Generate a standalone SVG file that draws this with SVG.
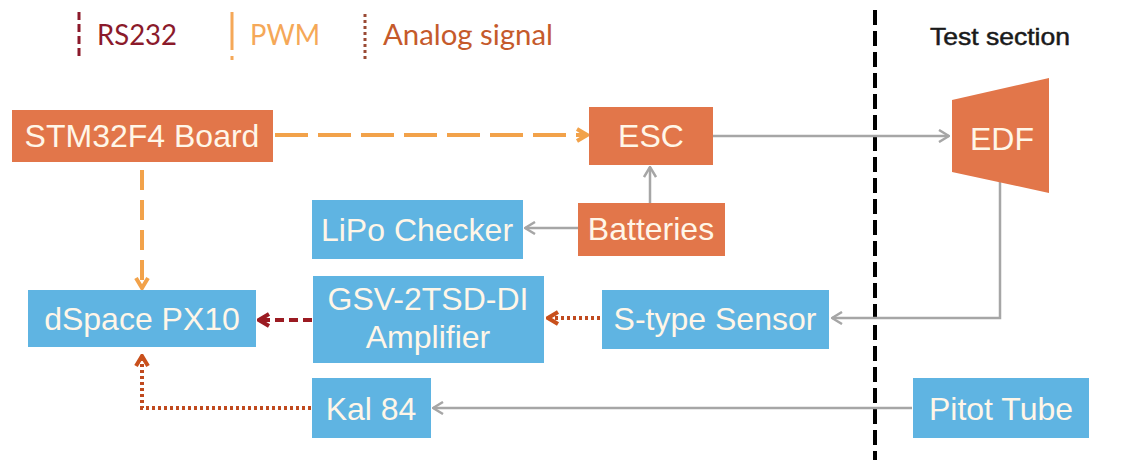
<svg xmlns="http://www.w3.org/2000/svg" width="1122" height="460" viewBox="0 0 1122 460">
<style>
.lbl{font-family:"Liberation Sans",Arial,sans-serif;font-size:32px;fill:#FFF6E8;text-anchor:middle}
.org{fill:#E2764A}
.blu{fill:#5FB4E2}
.leg{font-family:Lato,"Liberation Sans",sans-serif;font-size:28px}
.gray{stroke:#A6A6A6;stroke-width:2.5;fill:none}
.pwm{stroke:#F2A24A;stroke-width:4;fill:none}
.rs{stroke:#9B1B22;stroke-width:4;fill:none;stroke-dasharray:9 5}
.ana{stroke:#C04A1E;stroke-width:4;fill:none;stroke-dasharray:3 3}
</style>
<defs>
<marker id="mg" viewBox="0 0 12 14" refX="11" refY="7" markerWidth="12" markerHeight="14" markerUnits="userSpaceOnUse" orient="auto"><path d="M1,1 L11,7 L1,13" fill="none" stroke="#A6A6A6" stroke-width="2.5"/></marker>
<marker id="mp" viewBox="0 0 14 16" refX="12" refY="8" markerWidth="14" markerHeight="16" markerUnits="userSpaceOnUse" orient="auto"><path d="M2,2 L12,8 L2,14" fill="none" stroke="#F2A24A" stroke-width="4"/></marker>
<marker id="mr" viewBox="0 0 14 16" refX="12" refY="8" markerWidth="14" markerHeight="16" markerUnits="userSpaceOnUse" orient="auto"><path d="M2,2 L12,8 L2,14" fill="none" stroke="#9B1B22" stroke-width="4"/></marker>
<marker id="ma" viewBox="0 0 14 16" refX="12" refY="8" markerWidth="14" markerHeight="16" markerUnits="userSpaceOnUse" orient="auto"><path d="M2,2 L12,8 L2,14" fill="none" stroke="#C9501C" stroke-width="4"/></marker>
</defs>
<rect width="1122" height="460" fill="#FFFFFF"/>

<g id="legend">
<line x1="79" y1="12" x2="79" y2="60" stroke="#8B1A2B" stroke-width="3" stroke-dasharray="8 4"/>
<text class="leg" x="97" y="45" fill="#8B1A2B" textLength="80" lengthAdjust="spacingAndGlyphs">RS232</text>
<line x1="232" y1="12" x2="232" y2="60" stroke="#F5A858" stroke-width="3" stroke-dasharray="38 6"/>
<text class="leg" x="250" y="45" fill="#F5A858" textLength="70" lengthAdjust="spacingAndGlyphs">PWM</text>
<line x1="365" y1="14" x2="365" y2="60" stroke="#9A4A35" stroke-width="3" stroke-dasharray="3 3"/>
<text class="leg" x="383" y="45" fill="#C55A2B" textLength="170" lengthAdjust="spacingAndGlyphs">Analog signal</text>
<text x="930" y="45" font-family="'Liberation Sans',Arial,sans-serif" font-size="24" fill="#1A1A1A" stroke="#1A1A1A" stroke-width="0.5" textLength="140" lengthAdjust="spacingAndGlyphs">Test section</text>
</g>

<g id="divider">
<line x1="875" y1="10" x2="875" y2="460" stroke="#000" stroke-width="4" stroke-dasharray="15 6"/>
</g>

<g id="connectors">
<line class="pwm" x1="275" y1="135" x2="587" y2="135" stroke-dasharray="33 10" marker-end="url(#mp)"/>
<line class="pwm" x1="142" y1="170" x2="142" y2="288" stroke-dasharray="20 10" marker-end="url(#mp)"/>
<line class="gray" x1="713" y1="136" x2="949" y2="136" marker-end="url(#mg)"/>
<line class="gray" x1="650" y1="203" x2="650" y2="167" marker-end="url(#mg)"/>
<line class="gray" x1="578" y1="228" x2="525" y2="228" marker-end="url(#mg)"/>
<polyline class="gray" points="1000,182 1000,318 832,318" marker-end="url(#mg)"/>
<line class="gray" x1="912" y1="408" x2="433" y2="408" marker-end="url(#mg)"/>
<line class="rs" x1="312" y1="320" x2="259" y2="320" marker-end="url(#mr)"/>
<line class="ana" x1="600" y1="318" x2="548" y2="318" marker-end="url(#ma)"/>
<polyline class="ana" points="311,408 142,408 142,356" marker-end="url(#ma)"/>
</g>

<g id="stm32"><rect class="org" x="12" y="110" width="261" height="52"/><text class="lbl" x="142" y="147">STM32F4 Board</text></g>
<g id="esc"><rect class="org" x="589" y="107" width="124" height="58"/><text class="lbl" x="651" y="147">ESC</text></g>
<g id="edf"><polygon class="org" points="952,100 1049,78 1049,193 952,172"/><text class="lbl" x="1002" y="150">EDF</text></g>
<g id="batteries"><rect class="org" x="578" y="203" width="147" height="53"/><text class="lbl" x="651" y="240">Batteries</text></g>
<g id="lipo"><rect class="blu" x="312" y="200" width="211" height="59"/><text class="lbl" x="417" y="241">LiPo Checker</text></g>
<g id="dspace"><rect class="blu" x="28" y="290" width="228" height="57"/><text class="lbl" x="142" y="330">dSpace PX10</text></g>
<g id="gsv"><rect class="blu" x="313" y="276" width="231" height="87"/><text class="lbl" x="428" y="310">GSV-2TSD-DI</text><text class="lbl" x="428" y="348">Amplifier</text></g>
<g id="stype"><rect class="blu" x="602" y="290" width="227" height="59"/><text class="lbl" x="715" y="330">S-type Sensor</text></g>
<g id="kal"><rect class="blu" x="312" y="378" width="119" height="60"/><text class="lbl" x="371" y="420">Kal 84</text></g>
<g id="pitot"><rect class="blu" x="913" y="378" width="176" height="60"/><text class="lbl" x="1001" y="420">Pitot Tube</text></g>
</svg>
